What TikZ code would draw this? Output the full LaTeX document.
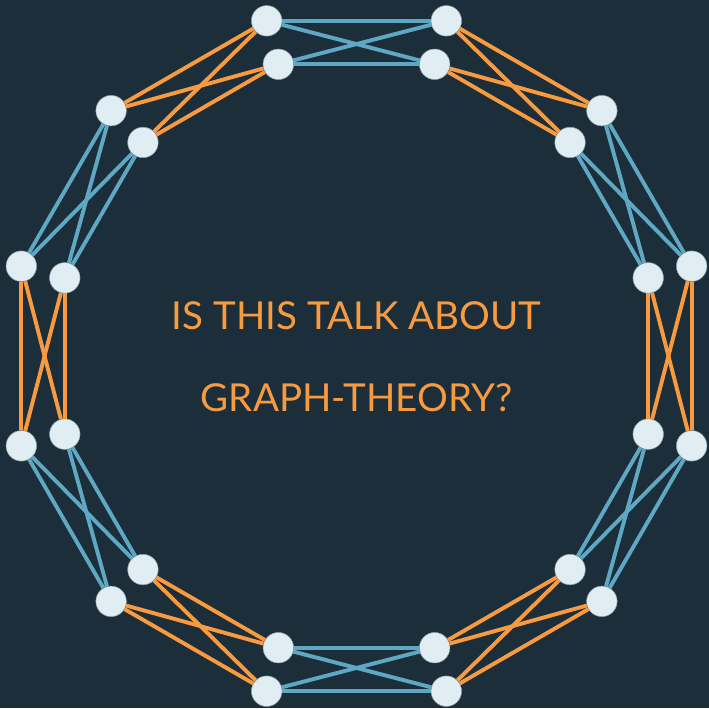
\documentclass[tikz,border=0pt]{standalone}
\usepackage{fontspec}
\setmainfont{Lato}
\usepackage{xcolor}
\usepackage{tikz}
\usetikzlibrary{positioning}

\definecolor{bgdark}{HTML}{1B2E3A}
\definecolor{vertexfill}{HTML}{E0EEF3}
\definecolor{linkblue}{HTML}{5FA8C4}
\definecolor{linkorange}{HTML}{F79A40}

\begin{document}
\begin{tikzpicture}[
    x=0.02cm,
    y=0.02cm,
    vertex/.style={
        circle,
        fill=vertexfill,
        draw=bgdark!40!vertexfill,
        line width=0.3pt,
        inner sep=0pt,
        minimum size=0.61cm
    },
    link/.style={
        line width=0.078cm
    },
    title/.style={
        text=linkorange,
        font=\fontsize{21.9pt}{26pt}\selectfont,
        align=center
    }
]

% Background and frame
\fill[bgdark] (-356.5,-352) rectangle (352.5,356);
\useasboundingbox (-356.5,-352) rectangle (352.5,356);

% Outer and inner ring of vertices
\foreach \k in {0,...,11} {
    \node[vertex] (o\k) at ({15+30*\k}:347) {};
    \node[vertex] (i\k) at ({15+30*\k}:302) {};
}

% Links between neighbouring pairs
\foreach \k/\n/\col in {0/1/linkblue, 1/2/linkorange, 2/3/linkblue, 3/4/linkorange,
                        4/5/linkblue, 5/6/linkorange, 6/7/linkblue, 7/8/linkorange,
                        8/9/linkblue, 9/10/linkorange, 10/11/linkblue, 11/0/linkorange} {
    \draw[link, \col] (o\k) -- (o\n);
    \draw[link, \col] (i\k) -- (i\n);
    \draw[link, \col] (o\k) -- (i\n);
    \draw[link, \col] (i\k) -- (o\n);
}

% Question in the middle
\node[title] (line1) at (0,40) {IS THIS TALK ABOUT};
\node[title] (line2) at (0,-42) {GRAPH-THEORY?};

\end{tikzpicture}
\end{document}
